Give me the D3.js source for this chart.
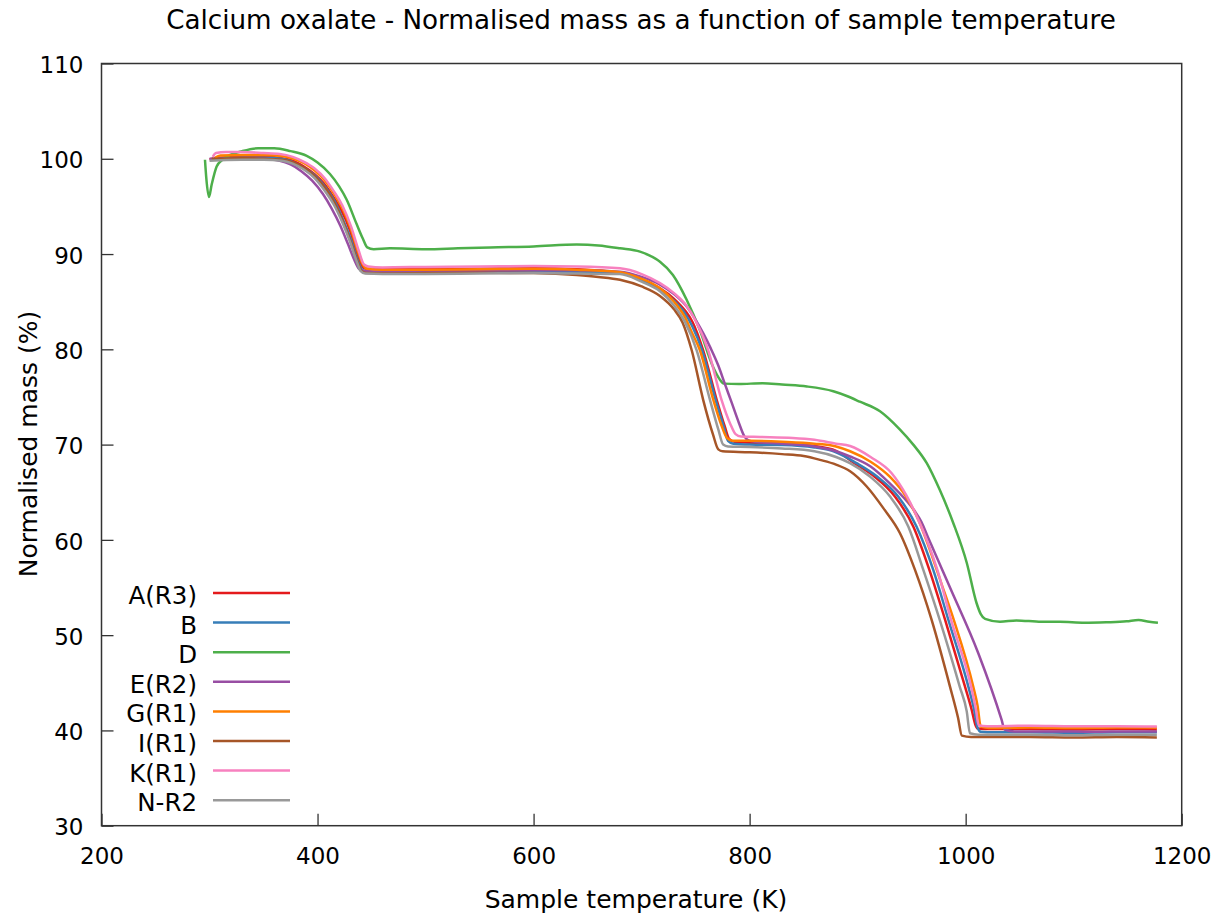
<!DOCTYPE html>
<html><head><meta charset="utf-8">
<script src="https://cdn.jsdelivr.net/npm/d3@7"></script>
<style>body{margin:0;background:#fff}svg{display:block}text{font-family:"DejaVu Sans",sans-serif;fill:#000}</style>
</head><body><svg id="c" width="1220" height="916"></svg>
<script>
const title = "Calcium oxalate - Normalised mass as a function of sample temperature";
const xLabel = "Sample temperature (K)";
const yLabel = "Normalised mass (%)";
const xTicks = [200,400,600,800,1000,1200];
const yTicks = [30,40,50,60,70,80,90,100,110];
const seriesNames = ["A(R3)","B","D","E(R2)","G(R1)","I(R1)","K(R1)","N-R2"];
const seriesColors = ["#e41a1c","#377eb8","#4daf4a","#984ea3","#ff7f00","#a65628","#f781bf","#999999"];

const A_R3 = [[300,99.95],[310,100.1],[330,100.2],[350,100.2],[367,100.05],[377,99.8],[387,99.2],[397,98.4],[406,97.4],[414,96.1],[422,94.6],[430,92.5],[436,90.3],[441,88.8],[445,88.45],[460,88.4],[500,88.4],[550,88.45],[600,88.5],[640,88.4],[680,88.0],[700,87.3],[717,86.4],[730,85.3],[740,84.1],[747,82.9],[757,79.9],[769.5,74.7],[777,71.9],[781,70.6],[786,70.3],[800,70.2],[830,70.1],[860,69.85],[880,69.35],[897,68.05],[915.5,66.65],[934.5,64.55],[951.5,61.4],[966.4,56.85],[981,51.6],[999.4,44.6],[1005.5,42.2],[1009,40.6],[1011,40.2],[1018,40.15],[1060,40.15],[1100,40.1],[1140,40.15],[1177,40.1]];
const B = [[303,99.9],[310,100.0],[330,100.1],[350,100.1],[367,100.0],[378,99.6],[388,99.0],[398,98.2],[408,96.9],[416,95.5],[424,93.5],[431,91.5],[437,89.4],[441,88.4],[445,88.15],[460,88.1],[500,88.1],[550,88.15],[600,88.2],[640,88.15],[680,88.0],[700,87.3],[717,86.3],[730,85.1],[740,83.8],[747,82.4],[756,79.9],[768.5,74.7],[776,71.9],[780,70.4],[785,70.1],[800,70.0],[830,69.95],[860,69.7],[880,69.2],[899,68.05],[918,66.65],[937.5,64.55],[954.5,61.4],[970,56.85],[984,51.6],[1002.5,44.6],[1008,42.1],[1011,40.3],[1014,39.85],[1020,39.8],[1060,39.8],[1100,39.75],[1140,39.8],[1177,39.8]];
const D = [[295.8,99.9],[297,98.0],[299.5,96.0],[302,97.3],[306.6,99.2],[312,99.9],[319,100.4],[330,100.8],[345,101.1],[360,101.1],[375,100.8],[390,100.3],[400,99.6],[411.5,98.4],[420,97.1],[427,95.7],[436,93.2],[442,91.6],[446,90.7],[452,90.5],[467,90.6],[500,90.5],[530,90.6],[560,90.7],[600,90.8],[640,91.0],[660,90.9],[680,90.6],[698.5,90.25],[710,89.7],[717,89.2],[729,87.8],[741.7,85.2],[754,82.0],[766,78.2],[772,76.9],[776,76.4],[790,76.35],[812,76.45],[830,76.3],[853,76.1],[877.5,75.6],[890,75.1],[902,74.5],[920.7,73.5],[939,71.6],[951.5,70.0],[964,68.05],[976,65.25],[988.6,61.75],[1001,57.6],[1010,53.4],[1014,52.2],[1018,51.7],[1031.8,51.4],[1047,51.55],[1070,51.4],[1087,51.4],[1110,51.3],[1130,51.35],[1149,51.45],[1160,51.6],[1170,51.4],[1178,51.3]];
const E_R2 = [[300,100.0],[310,100.0],[330,100.05],[350,100.0],[365,99.8],[375,99.4],[385,98.7],[395,97.7],[405,96.3],[413,94.8],[421,93.0],[428,91.1],[434,89.4],[438,88.5],[442,88.25],[460,88.15],[500,88.2],[550,88.25],[600,88.3],[640,88.3],[680,88.15],[700,87.6],[717,86.8],[730,85.8],[741.7,84.5],[750,83.1],[757,81.7],[764,80.1],[771,78.3],[777,76.4],[783.4,74.4],[790,72.3],[795,70.9],[799,70.45],[805,70.3],[830,70.1],[860,69.8],[880,69.3],[893,68.75],[912,67.7],[930,65.9],[946,64.0],[953,63.0],[959,61.9],[965,60.3],[971.6,58.6],[985.5,55.0],[1011.7,48.1],[1033.3,41.1],[1036,40.1],[1045,39.9],[1080,39.9],[1120,39.85],[1150,39.9],[1177,39.9]];
const G_R1 = [[305,100.1],[310,100.35],[330,100.4],[350,100.4],[367,100.3],[378,100.0],[388,99.5],[398,98.7],[407,97.7],[415,96.4],[423,94.8],[431,92.6],[437,90.4],[442,88.9],[446,88.45],[460,88.35],[500,88.35],[550,88.4],[600,88.45],[640,88.35],[680,88.1],[700,87.4],[717,86.4],[730,85.0],[740,83.4],[746,81.9],[754,79.9],[766.4,74.7],[774,72.0],[779,70.7],[784,70.4],[800,70.4],[830,70.3],[860,70.1],[880,69.8],[893,69.3],[912,68.2],[930,66.6],[945,64.5],[957,61.9],[967,58.9],[977,55.6],[989,51.6],[1007,44.6],[1011,42.6],[1014,40.4],[1022,40.25],[1060,40.3],[1100,40.25],[1140,40.3],[1177,40.3]];
const I_R1 = [[302,100.0],[310,100.0],[330,100.05],[350,100.0],[367,99.9],[378,99.6],[388,99.0],[398,98.1],[408,96.8],[416,95.3],[424,93.3],[431,91.2],[437,89.2],[441,88.2],[445,88.0],[460,87.95],[500,88.0],[550,88.05],[600,88.0],[640,87.8],[660,87.6],[680,87.3],[700,86.6],[717,85.6],[730,84.2],[738,82.8],[746.4,79.9],[757,74.7],[766,71.1],[771,69.5],[775,69.3],[800,69.2],[830,69.0],[850,68.8],[865,68.4],[880,67.9],[893,67.2],[908.4,65.6],[923.8,63.33],[939.2,60.7],[953.1,56.85],[968.5,51.6],[985.5,44.6],[993,41.3],[996.5,39.45],[1005,39.3],[1060,39.3],[1100,39.25],[1140,39.3],[1177,39.25]];
const K_R1 = [[303,100.2],[306,100.6],[315,100.7],[330,100.7],[350,100.6],[365,100.5],[377,100.2],[387,99.7],[397,99.0],[407,97.9],[415,96.6],[423,95.1],[431,92.9],[438,90.4],[443,88.9],[447,88.7],[460,88.6],[500,88.65],[550,88.7],[600,88.75],[640,88.7],[680,88.5],[700,87.9],[717,86.95],[730,85.9],[740,84.8],[750,83.0],[761.7,79.9],[774,74.7],[782,72.2],[787,71.1],[792,70.85],[810,70.8],[840,70.7],[860,70.5],[880,70.1],[893,69.85],[912,68.7],[931.5,67.0],[945,64.7],[956.2,62.1],[965,59.7],[973.8,56.85],[986.5,51.6],[1005,44.6],[1009.5,42.2],[1012,40.55],[1020,40.45],[1060,40.5],[1100,40.45],[1140,40.45],[1177,40.4]];
const N_R2 = [[300,99.8],[310,99.85],[330,99.9],[350,99.9],[367,99.8],[377,99.5],[387,98.9],[397,98.0],[407,96.6],[415,95.2],[423,93.3],[430,91.3],[436,89.3],[440,88.2],[444,87.95],[460,87.9],[500,87.9],[550,87.95],[600,88.0],[640,87.95],[680,87.9],[700,87.1],[717,86.1],[730,84.6],[740,82.9],[751,79.9],[763.3,74.7],[771,71.6],[775.5,70.0],[780,69.8],[800,69.75],[830,69.6],[860,69.3],[880,68.7],[892.9,68.05],[911.4,66.65],[930,64.55],[946.9,61.4],[960.8,56.85],[976,51.6],[994.5,44.6],[1001,42.0],[1004,39.7],[1012,39.55],[1060,39.55],[1100,39.5],[1140,39.55],[1177,39.55]];
const seriesData = [A_R3,B,D,E_R2,G_R1,I_R1,K_R1,N_R2];

const svg = d3.select("#c");
const L=101.5, R=1181.7, T=63.5, Bt=825.7;
const x = d3.scaleLinear().domain([200,1200]).range([L,R]);
const y = d3.scaleLinear().domain([30,110]).range([Bt,T]);

const tickFs = 23, legFs = 24.5, labFs = 25, titleFs = 26.2;
const gx = svg.append("g").attr("transform",`translate(0,${Bt})`)
  .call(d3.axisBottom(x).tickValues(xTicks).tickSize(-12).tickPadding(22).tickFormat(d3.format("d")));
const gy = svg.append("g").attr("transform",`translate(${L},0)`)
  .call(d3.axisLeft(y).tickValues(yTicks).tickSize(-12).tickPadding(18).tickFormat(d3.format("d")));
[gx,gy].forEach(g=>{
  g.select(".domain").remove();
  g.selectAll(".tick line").attr("stroke","#333").attr("stroke-width",1.3);
  g.selectAll(".tick text").attr("font-size",tickFs).attr("font-family","DejaVu Sans").attr("fill","#000");
});
gy.selectAll(".tick text").attr("dy","0.4em");

svg.append("rect").attr("x",L).attr("y",T).attr("width",R-L).attr("height",Bt-T)
  .attr("fill","none").attr("stroke","#333").attr("stroke-width",1.5);

const line = d3.line().x(d=>x(d[0])).y(d=>y(d[1])).curve(d3.curveMonotoneX);
seriesData.forEach((s,i)=>{
  svg.append("path").datum(s).attr("d",line).attr("fill","none")
    .attr("stroke",seriesColors[i]).attr("stroke-width",2.5).attr("stroke-linejoin","round");
});

// legend
const lg = svg.append("g");
seriesNames.forEach((n,i)=>{
  const yy = 593 + i*29.6;
  lg.append("text").attr("x",197).attr("y",yy+11).attr("text-anchor","end")
    .attr("font-size",legFs).text(n);
  lg.append("line").attr("x1",213).attr("x2",290).attr("y1",yy).attr("y2",yy)
    .attr("stroke",seriesColors[i]).attr("stroke-width",2.5);
});

svg.append("text").attr("x",641).attr("y",29).attr("text-anchor","middle").attr("font-size",titleFs).text(title);
svg.append("text").attr("x",636).attr("y",908).attr("text-anchor","middle").attr("font-size",labFs).text(xLabel);
svg.append("text").attr("transform","translate(37,444) rotate(-90)").attr("text-anchor","middle").attr("font-size",labFs).text(yLabel);
</script></body></html>
